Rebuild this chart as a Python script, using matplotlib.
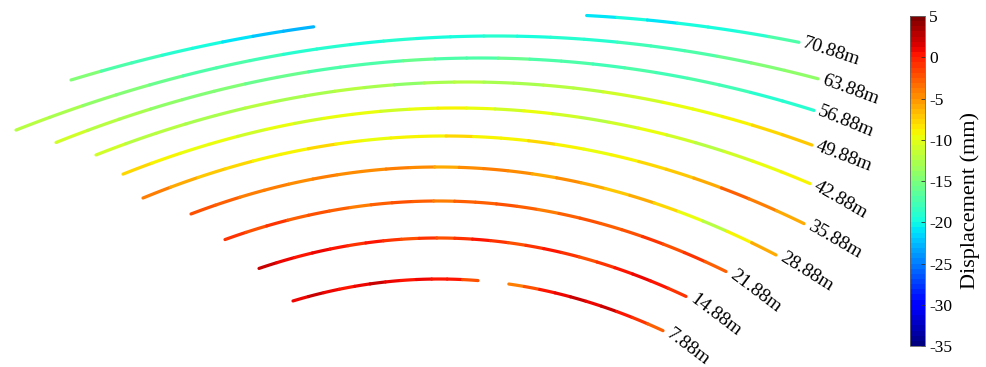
import numpy as np
import matplotlib
matplotlib.use('Agg')
import matplotlib.pyplot as plt
from matplotlib.collections import LineCollection
from matplotlib.colors import Normalize

plt.rcParams['font.family'] = 'serif'
plt.rcParams['font.serif'] = ['Liberation Serif', 'DejaVu Serif']
plt.rcParams['axes.unicode_minus'] = False

nan = np.nan

# Monitoring levels (m) and displacement (mm) at 24 stations along each arc, left -> right
elevations = [7.88, 14.88, 21.88, 28.88, 35.88, 42.88, 49.88, 56.88, 63.88, 70.88]

d_7_88 = [1, 2, 1, 0, 1, 2, 1, 0, 1, 0, 0, -2, nan, nan, -4, -2, 0, 1, 2, 1, 2, 0, -1, -3]
d_14_88 = [2, 1, 0, 1, 0, -1, 0, -1, -2, -1, -2, -1, 0, -1, -2, -1, 0, -1, -2, -1, 0, 1, 0, -1]
d_21_88 = [-1, -2, -1, -3, -2, -3, -4, -3, -2, -3, -4, -3, -3, -2, -3, -4, -3, -2, -3, -2, -1, -2, -1, -3]
d_28_88 = [-2, -3, -4, -4, -5, -4, -5, -5, -4, -5, -6, -5, -4, -5, -6, -5, -6, -7, -6, -8, -10, -12, -9, -6]
d_35_88 = [-4, -6, -7, -8, -9, -9, -8, -9, -10, -9, -9, -8, -9, -9, -8, -9, -10, -9, -8, -7, -6, -3, -4, -6]
d_42_88 = [-8, -9, -10, -10, -11, -10, -11, -10, -10, -11, -10, -9, -10, -11, -10, -11, -12, -11, -10, -11, -12, -11, -10, -9]
d_49_88 = [-11, -12, -12, -13, -13, -12, -13, -13, -12, -13, -14, -13, -12, -13, -13, -12, -12, -11, -11, -10, -10, -9, -8, -7]
d_56_88 = [-11, -12, -13, -14, -15, -15, -16, -16, -17, -17, -17, -16, -17, -17, -16, -17, -17, -18, -17, -18, -17, -18, -19, -19]
d_63_88 = [-12, -13, -14, -15, -16, -17, -17, -18, -19, -19, -20, -19, -20, -20, -19, -20, -19, -19, -18, -18, -17, -16, -15, -14]
d_70_88 = [-15, -17, -18, -19, -20, -21, -22, -23,
           nan, nan, nan, nan, nan, nan, nan, nan, nan,
           -21, -20, -21, -20, -20, -19, -17]

disp = [d_7_88, d_14_88, d_21_88, d_28_88, d_35_88,
        d_42_88, d_49_88, d_56_88, d_63_88, d_70_88]

# Arc layout in view units (parabolic arches seen in oblique view)
crown_x = [439, 438, 438, 438, 445, 455, 467, 480, 495, 510]
crown_y = [88, 129, 166, 200, 231, 259, 285, 309, 331, 353.5]
bend = [0.00103, 0.00095, 0.00085, 0.00077, 0.00068, 0.0006, 0.00053, 0.00047, 0.00041, 0.000345]
x_left = [293, 259, 225, 191, 143, 123, 96, 56, 16, 71]
x_right = [663, 686, 726, 776, 804, 810, 812, 814, 818, 799]
label_rot = [-37, -37, -37, -32, -30, -30, -21, -22, -20, -18]

cmap = plt.get_cmap('jet', 64)
norm = Normalize(vmin=-35, vmax=5)

fig = plt.figure(figsize=(9.87, 3.67), dpi=100)
ax = fig.add_axes([0, 0, 1, 1])
ax.set_xlim(0, 987)
ax.set_ylim(0, 367)
ax.axis('off')

for i, elev in enumerate(elevations):
    vals = np.asarray(disp[i], dtype=float)
    edges = np.linspace(x_left[i], x_right[i], len(vals) + 1)
    segs, cvals = [], []
    for k, v in enumerate(vals):
        if np.isnan(v):
            continue
        xs = np.linspace(edges[k], edges[k + 1], 6)
        ys = crown_y[i] - bend[i] * (xs - crown_x[i]) ** 2
        segs.append(np.column_stack([xs, ys]))
        cvals.append(v)
    lc = LineCollection(segs, cmap=cmap, norm=norm, linewidths=2.3, capstyle='round')
    lc.set_array(np.array(cvals))
    ax.add_collection(lc)

    xe = x_right[i]
    ye = crown_y[i] - bend[i] * (xe - crown_x[i]) ** 2
    ax.text(xe + 3, ye - 5, f'{elev:.2f}m', rotation=label_rot[i], rotation_mode='anchor',
            ha='left', va='baseline', fontsize=14)

# colorbar
cax = fig.add_axes([910 / 987, 21 / 367, 15 / 987, 330 / 367])
sm = plt.cm.ScalarMappable(norm=norm, cmap=cmap)
cb = fig.colorbar(sm, cax=cax, ticks=np.arange(-35, 6, 5))
cb.ax.tick_params(direction='in', length=3, width=0.6, labelsize=12.5, color='#333333', pad=3)
cb.outline.set_linewidth(0.6)
cb.outline.set_edgecolor('#666666')
cb.set_label('Displacement (mm)', fontsize=16, labelpad=6)
cb.ax.yaxis.label.set_y(0.44)

fig.savefig('out.png', dpi=100)
